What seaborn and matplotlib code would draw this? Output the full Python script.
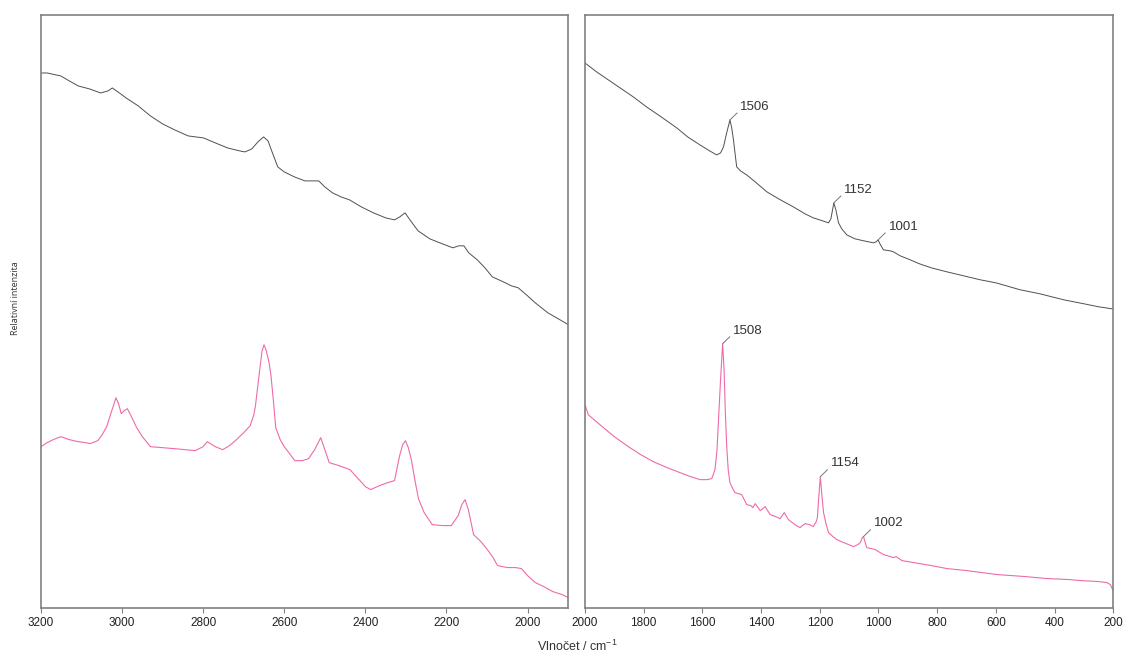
import matplotlib
matplotlib.use("Agg")
import matplotlib.pyplot as plt
import seaborn as sns
import pandas as pd

# ---- spectra: wavenumber (cm-1) and relative intensity (a.u.) ----
# high-wavenumber region, upper (black) spectrum
hi_wn_black = [3200, 3185, 3151, 3130, 3108, 3080, 3053, 3035, 3024, 3010, 2990, 2960,
               2930, 2900, 2870, 2837, 2799, 2770, 2740, 2710, 2697, 2680, 2665, 2651,
               2640, 2630, 2616, 2600, 2575, 2549, 2530, 2515, 2500, 2481, 2460, 2439,
               2410, 2380, 2350, 2328, 2315, 2302, 2290, 2270, 2241, 2210, 2184, 2170,
               2157, 2145, 2124, 2105, 2087, 2060, 2040, 2023, 2000, 1981, 1950, 1920, 1899]
hi_int_black = [535, 535, 532, 527, 522, 519, 515, 517, 520, 516, 510, 502,
                492, 484, 478, 472, 470, 465, 460, 457, 456, 459, 466, 471,
                467, 456, 441, 436, 431, 427, 427, 427, 421, 415, 411, 408,
                401, 395, 390, 388, 391, 395, 388, 377, 369, 364, 360, 362,
                362, 355, 348, 340, 331, 326, 322, 320, 312, 305, 295, 288, 283]

# high-wavenumber region, lower (pink) spectrum
hi_wn_pink = [3200, 3185, 3170, 3151, 3130, 3108, 3090, 3079, 3060, 3049, 3038, 3027,
              3015, 3008, 3002, 2995, 2987, 2978, 2964, 2950, 2930, 2900, 2871, 2845,
              2820, 2800, 2790, 2770, 2752, 2735, 2718, 2700, 2684, 2675, 2671, 2662,
              2655, 2650, 2645, 2638, 2633, 2627, 2621, 2610, 2600, 2585, 2574, 2555,
              2540, 2525, 2510, 2500, 2489, 2465, 2438, 2420, 2400, 2387, 2365, 2345,
              2328, 2316, 2308, 2301, 2294, 2286, 2278, 2269, 2255, 2235, 2210, 2188,
              2171, 2162, 2154, 2146, 2133, 2115, 2099, 2085, 2074, 2050, 2030, 2015,
              2000, 1981, 1960, 1938, 1915, 1900]
hi_int_pink = [161, 165, 168, 171, 168, 166, 165, 164, 167, 173, 181, 195,
               210, 203, 194, 197, 199, 192, 180, 171, 161, 160, 159, 158,
               157, 161, 166, 161, 158, 162, 168, 175, 182, 193, 202, 233,
               256, 263, 258, 246, 233, 208, 180, 168, 161, 153, 147, 147,
               149, 158, 170, 158, 145, 142, 138, 130, 121, 118, 122, 125,
               127, 151, 163, 167, 160, 147, 128, 109, 95, 83, 82, 82,
               92, 103, 108, 98, 73, 66, 58, 50, 42, 40, 40, 39,
               32, 25, 21, 16, 13, 10]

# fingerprint region, upper (black) spectrum
lo_wn_black = [2000, 1960, 1920, 1880, 1835, 1790, 1740, 1687, 1650, 1608, 1575, 1551,
               1538, 1528, 1518, 1506, 1500, 1494, 1488, 1483, 1470, 1449, 1420, 1380,
               1340, 1290, 1250, 1222, 1190, 1170, 1162, 1152, 1145, 1136, 1125, 1108,
               1080, 1050, 1017, 1008, 1001, 995, 983, 960, 949, 926, 900, 860,
               820, 767, 710, 653, 600, 517, 450, 369, 300, 250, 205, 200]
lo_int_black = [545, 536, 528, 520, 511, 501, 491, 480, 471, 463, 457, 453,
                455, 461, 474, 488, 480, 468, 453, 441, 437, 433, 426, 416,
                409, 401, 394, 390, 387, 385, 389, 405, 398, 385, 379, 373,
                369, 367, 365, 366, 368, 364, 358, 357, 356, 352, 349, 344,
                340, 336, 332, 328, 325, 318, 314, 308, 304, 301, 299, 299]

# fingerprint region, lower (pink) spectrum
lo_wn_pink = [2000, 1994, 1989, 1965, 1937, 1900, 1847, 1810, 1767, 1720, 1676, 1640,
              1608, 1585, 1568, 1557, 1550, 1545, 1538, 1531, 1526, 1522, 1517, 1512,
              1506, 1495, 1489, 1466, 1449, 1435, 1428, 1420, 1403, 1386, 1369, 1350,
              1335, 1321, 1307, 1285, 1267, 1250, 1235, 1222, 1212, 1208, 1204, 1198,
              1193, 1187, 1178, 1170, 1155, 1142, 1110, 1085, 1070, 1062, 1055, 1051,
              1046, 1040, 1025, 1011, 983, 960, 949, 940, 920, 881, 820, 767,
              700, 596, 500, 426, 350, 313, 250, 222, 210, 202, 200]
lo_int_pink = [203, 198, 193, 187, 180, 171, 160, 153, 146, 140, 135, 131,
               128, 128, 129, 138, 158, 188, 228, 264, 238, 198, 161, 138,
               125, 118, 115, 113, 103, 102, 100, 104, 97, 101, 93, 91,
               89, 95, 88, 83, 80, 84, 83, 81, 86, 90, 108, 131,
               113, 95, 83, 75, 71, 68, 64, 61, 63, 65, 70, 71,
               66, 60, 59, 58, 53, 51, 50, 51, 47, 45, 42, 39,
               37, 33, 31, 29, 28, 27, 26, 25, 23, 18, 17]

# labelled bands: (position on the plotted curve, label text)
black_peaks = [(1506, "1506"), (1152, "1152"), (1001, "1001")]
pink_peaks = [(1531, "1508"), (1198, "1154"), (1051, "1002")]

hi_ticks = [3200, 3000, 2800, 2600, 2400, 2200, 2000]
lo_ticks = [2000, 1800, 1600, 1400, 1200, 1000, 800, 600, 400, 200]

BLACK = "#505050"
PINK = "#ef6aa9"
FRAME = "#808080"

sns.set_theme(style="white")
plt.rcParams["font.family"] = ["Liberation Sans", "DejaVu Sans"]
plt.rcParams["mathtext.fontset"] = "custom"
plt.rcParams["mathtext.rm"] = "Liberation Sans"
plt.rcParams["mathtext.it"] = "Liberation Sans"

fig = plt.figure(figsize=(11.23, 6.59), dpi=100)
ax_hi = fig.add_axes([0.0365, 0.0781, 0.4697, 0.8991])
ax_lo = fig.add_axes([0.5209, 0.0781, 0.4704, 0.8991])


def draw(ax, wn_b, int_b, wn_p, int_p):
    df_b = pd.DataFrame({"wn": wn_b, "I": int_b})
    df_p = pd.DataFrame({"wn": wn_p, "I": int_p})
    sns.lineplot(data=df_b, x="wn", y="I", ax=ax, color=BLACK, lw=0.7,
                 estimator=None, sort=False)
    sns.lineplot(data=df_p, x="wn", y="I", ax=ax, color=PINK, lw=0.8,
                 estimator=None, sort=False)
    ax.set_ylim(0, 593)
    ax.set_yticks([])
    ax.set_xlabel("")
    ax.set_ylabel("")
    for sp in ax.spines.values():
        sp.set_visible(True)
        sp.set_color(FRAME)
        sp.set_linewidth(1.2)
    ax.tick_params(axis="x", direction="out", length=3.5, width=0.8,
                   color=FRAME, labelsize=8.5, labelcolor="#222222", pad=3,
                   bottom=True)


draw(ax_hi, hi_wn_black, hi_int_black, hi_wn_pink, hi_int_pink)
ax_hi.set_xlim(3200, 1899)
ax_hi.set_xticks(hi_ticks)
ax_hi.set_xticklabels([str(t) for t in hi_ticks])

draw(ax_lo, lo_wn_black, lo_int_black, lo_wn_pink, lo_int_pink)
ax_lo.set_xlim(2000, 200)
ax_lo.set_xticks(lo_ticks)
ax_lo.set_xticklabels([str(t) for t in lo_ticks])


def label_peaks(ax, wn, inten, peaks):
    lookup = dict(zip(wn, inten))
    for pos, txt in peaks:
        ax.annotate(txt, xy=(pos, lookup[pos]), xytext=(7.5, 9.5),
                    textcoords="offset points", ha="left", va="center",
                    fontsize=9.5, color="#333333",
                    arrowprops=dict(arrowstyle="-", color="#777777", lw=0.7,
                                    shrinkA=0, shrinkB=0, relpos=(0, 0.25)))


label_peaks(ax_lo, lo_wn_black, lo_int_black, black_peaks)
label_peaks(ax_lo, lo_wn_pink, lo_int_pink, pink_peaks)

fig.text(0.5138, 0.008, r"Vlnočet / cm$^{-1}$", ha="center", va="bottom",
         fontsize=9, color="#333333")
fig.text(0.0135, 0.548, "Relativní intenzita", rotation=90, ha="center",
         va="center", fontsize=6.4, color="#333333",
         family=["Open Sans", "DejaVu Sans"])

fig.savefig("out.png", dpi=100, facecolor="white")
